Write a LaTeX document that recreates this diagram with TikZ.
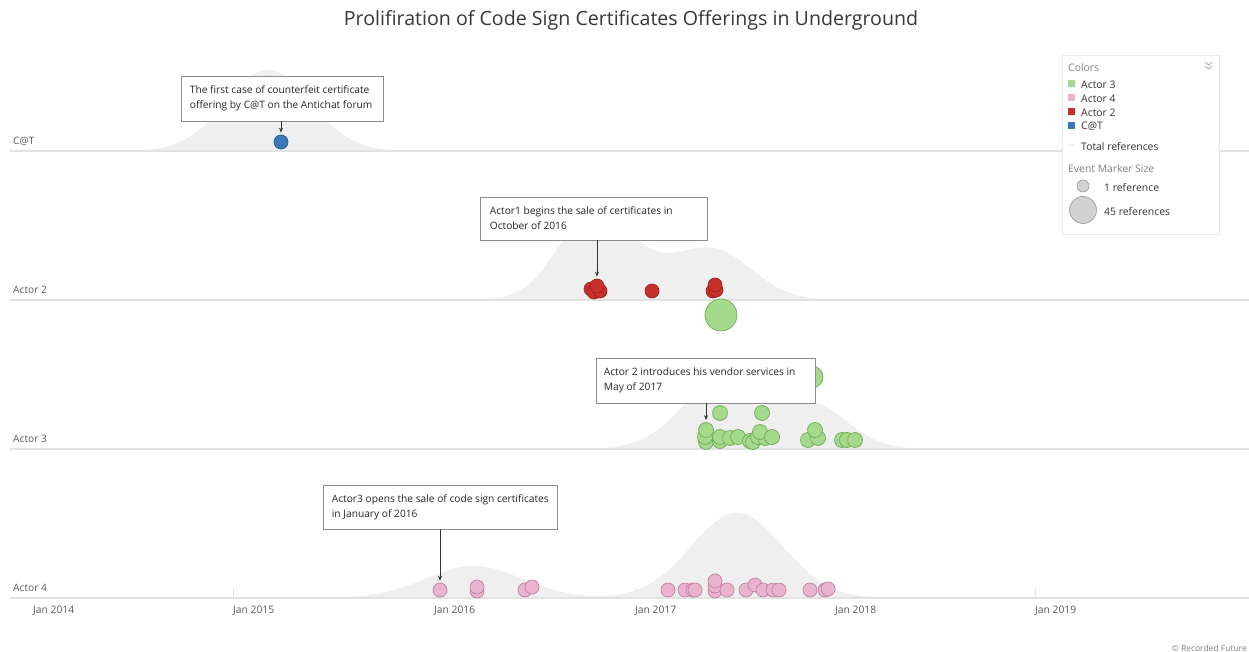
\documentclass[tikz,border=0pt]{standalone}
\usepackage{fontspec}
\setmainfont{Open Sans}
\usetikzlibrary{shadows,arrows.meta}
\definecolor{densgray}{RGB}{239,239,239}
\definecolor{axisgray}{RGB}{226,226,226}
\definecolor{txtgray}{RGB}{90,90,90}
\definecolor{lightgray2}{RGB}{130,130,130}
\definecolor{titlegray}{RGB}{55,55,55}
\definecolor{boxedge}{RGB}{140,140,140}
\definecolor{bluef}{RGB}{58,120,185}
\definecolor{bluee}{RGB}{38,88,140}
\definecolor{redf}{RGB}{200,48,44}
\definecolor{rede}{RGB}{160,35,35}
\definecolor{greenf}{RGB}{165,218,140}
\definecolor{greene}{RGB}{112,170,88}
\definecolor{pinkf}{RGB}{234,180,208}
\definecolor{pinke}{RGB}{190,130,160}
\definecolor{legf}{RGB}{210,210,210}
\definecolor{lege}{RGB}{150,150,150}
\tikzset{
  declare function={g(\xa,\ca,\sa,\ha)=\ha*exp(-min(9,0.5*((\xa-\ca)/\sa)*((\xa-\ca)/\sa)));},
  evdot/.style={circle, inner sep=0pt, minimum size=14pt, line width=0.7pt},
  catdot/.style={evdot, fill=bluef, draw=bluee},
  reddot/.style={evdot, fill=redf, draw=rede},
  greendot/.style={evdot, minimum size=15pt, fill=greenf, draw=greene},
  pinkdot/.style={evdot, fill=pinkf, draw=pinke},
  density/.style={fill=densgray},
  baseline/.style={draw=axisgray, line width=1.4pt},
  rowlabel/.style={anchor=west, text=txtgray, font=\fontsize{10.2}{12}\selectfont, inner sep=0pt},
  yearlabel/.style={anchor=west, text=txtgray, font=\fontsize{10.3}{12}\selectfont, inner sep=0pt},
  annot/.style={draw=boxedge, fill=white, line width=0.6pt, inner sep=0pt,
    drop shadow={shadow xshift=0.8pt, shadow yshift=-0.8pt, opacity=0.12}},
  annottext/.style={anchor=west, align=left, inner sep=0pt,
    font=\fontsize{10.2}{15}\selectfont, text=black!85},
  pointer/.style={draw=black!80, line width=0.7pt, -{Stealth[length=5pt,width=4pt]}, shorten >=2pt},
  legtext/.style={anchor=west, inner sep=0pt, font=\fontsize{10.4}{12}\selectfont, text=black!80},
  leghead/.style={anchor=west, inner sep=0pt, font=\fontsize{10.4}{12}\selectfont, text=lightgray2},
  legsq/.style={inner sep=0pt, minimum size=7pt},
}
\begin{document}
\begin{tikzpicture}[x=1pt, y=-1pt]
\useasboundingbox (0,0) rectangle (1249,652);
\fill[white] (0,0) rectangle (1249,652);

% title
\node[text=titlegray, font=\fontsize{19.6}{22}\selectfont] (title) at (631,20) {Prolifiration of Code Sign Certificates Offerings in Underground};

% year ticks
\foreach \tx in {233,434,635,835,1035} \draw[axisgray, line width=0.8pt] (\tx,588) -- (\tx,598);

% densities
\fill[density] (110,151) -- plot[domain=110:425, samples=120] (\x,{151-g(\x,268,42,81)}) -- (425,151) -- cycle;
\fill[density] (470,300) -- plot[domain=470:870, samples=160] (\x,{300-g(\x,593,35,85)-g(\x,652,35,18)-g(\x,715,38,48)}) -- (870,300) -- cycle;
\fill[density] (590,449) -- plot[domain=590:930, samples=140] (\x,{449-g(\x,725,42,70)-g(\x,815,35,40)}) -- (930,449) -- cycle;
\fill[density] (320,598) -- plot[domain=320:920, samples=200] (\x,{598-g(\x,474,48,32)-g(\x,737,46,85)}) -- (920,598) -- cycle;

% baselines
\foreach \by in {151,300,449,598} \draw[baseline] (10,\by) -- (1249,\by);

% row labels
\node[rowlabel] (lcat) at (13,141) {C@T};
\node[rowlabel] (la2) at (13,290) {Actor 2};
\node[rowlabel] (la3) at (13,439) {Actor 3};
\node[rowlabel] (la4) at (13,588) {Actor 4};

% year labels
\node[yearlabel] (y14) at (33,611) {Jan 2014};
\node[yearlabel] (y15) at (233,611) {Jan 2015};
\node[yearlabel] (y16) at (434,611) {Jan 2016};
\node[yearlabel] (y17) at (635,611) {Jan 2017};
\node[yearlabel] (y18) at (835,611) {Jan 2018};
\node[yearlabel] (y19) at (1035,611) {Jan 2019};

% C@T dot
\node[catdot] (c1) at (281,142) {};

% Actor 2 dots
\foreach \px/\py [count=\i] in {591/289,594/292,600/291,597/286,652/291,713/291,716/290,715/285}
  \node[reddot] (r\i) at (\px,\py) {};
\node[greendot, minimum size=32pt] (gbig) at (721,315) {};

% Actor 3 dots
\node[greendot, minimum size=22pt] (gmid) at (812,377) {};
\foreach \px/\py [count=\i] in {706/442,705/437,720/441,720/437,730/438,738/437,750/441,753/442,758/437,765/438,760/432,772/437,808/440,818/438,815/430,842/440,847/440,855/440,720/413,762/413}
  \node[greendot] (g\i) at (\px,\py) {};
\node[greendot] (garrow) at (706,430) {};

% Actor 4 dots
\foreach \px/\py [count=\i] in {477/591,477/587,525/590,532/587,668/590,685/590,693/590,695/590,715/591,715/586,715/581,727/590,746/590,755/585,763/590,773/590,779/590,810/590,825/590,828/589}
  \node[pinkdot] (p\i) at (\px,\py) {};
\node[pinkdot] (parrow) at (440,590) {};

% annotation boxes
\node[annot, minimum width=202pt, minimum height=45pt] (b1) at (282,98.5) {};
\node[annottext] (t1) at ([xshift=9pt]b1.west)
  {The first case of counterfeit certificate\\offering by C@T on the Antichat forum};
\node[annot, minimum width=227pt, minimum height=43pt] (b2) at (593.5,218.5) {};
\node[annottext] (t2) at ([xshift=10pt]b2.west)
  {Actor1 begins the sale of certificates in\\October of 2016};
\node[annot, minimum width=219pt, minimum height=45pt] (b3) at (705.5,380.5) {};
\node[annottext] (t3) at ([xshift=8pt]b3.west)
  {Actor 2 introduces his vendor services in\\May of 2017};
\node[annot, minimum width=234pt, minimum height=44pt] (b4) at (440,507) {};
\node[annottext] (t4) at ([xshift=9pt]b4.west)
  {Actor3 opens the sale of code sign certificates\\in January of 2016};

% pointers
\draw[pointer] (b1.south -| c1.north) -- (c1.north);
\draw[pointer] (b2.south -| r4.north) -- (r4.north);
\draw[pointer] (b3.south -| garrow.north) -- (garrow.north);
\draw[pointer] (b4.south -| parrow.north) -- (parrow.north);

% legend
\node[draw=black!8, fill=white, minimum width=157pt, minimum height=179pt, inner sep=0pt,
  drop shadow={shadow xshift=0.8pt, shadow yshift=-0.8pt, opacity=0.12}] (legend) at (1140.5,144.5) {};
\node[leghead] (lcolors) at (1068,67.5) {Colors};
\draw[lege, line width=0.6pt] (1205,62) -- (1208.5,65) -- (1212,62) (1205,66) -- (1208.5,69) -- (1212,66);
\node[legsq, fill=greenf] (sq1) at (1071.5,84) {};
\node[legtext] (lt1) at (1081,84.5) {Actor 3};
\node[legsq, fill=pinkf] (sq2) at (1071.5,98) {};
\node[legtext] (lt2) at (1081,98.5) {Actor 4};
\node[legsq, fill=redf] (sq3) at (1071.5,112) {};
\node[legtext] (lt3) at (1081,112.5) {Actor 2};
\node[legsq, fill=bluef] (sq4) at (1071.5,126) {};
\node[legtext] (lt4) at (1081,126.5) {C@T};
\node[legsq, fill=black!5, minimum height=3pt] (sq5) at (1071.5,146) {};
\node[legtext] (lt5) at (1081,146.5) {Total references};
\node[leghead] (lsize) at (1068,168.5) {Event Marker Size};
\node[circle, fill=legf, draw=lege, line width=0.6pt, minimum size=12pt, inner sep=0pt] (ls1) at (1083,186) {};
\node[legtext] (lst1) at (1104,187.5) {1 reference};
\node[circle, fill=legf, draw=lege, line width=0.6pt, minimum size=27pt, inner sep=0pt] (ls2) at (1083,210) {};
\node[legtext] (lst2) at (1104,211.5) {45 references};

% copyright
\node[anchor=east, inner sep=0pt, text=lightgray2, font=\fontsize{8.5}{10}\selectfont] (copy) at (1247,648) {© Recorded Future};
\end{tikzpicture}
\end{document}
